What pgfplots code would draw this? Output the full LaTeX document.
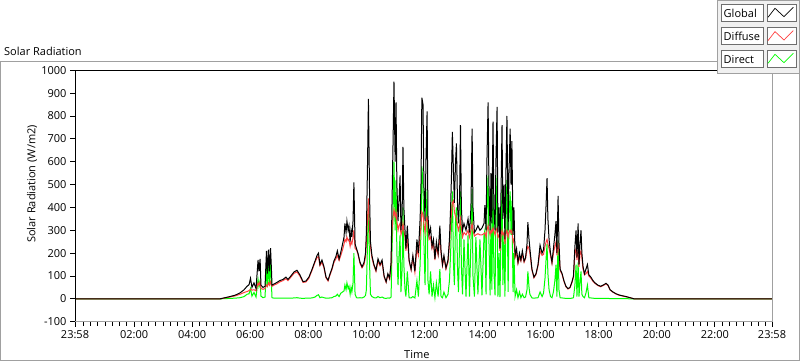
\documentclass[border=0pt]{standalone}
\usepackage{pgfplots}
\pgfplotsset{compat=1.18}
\usepackage{pgfplotstable}
\usepackage{fontspec}
\setmainfont{Open Sans}
\newcommand\ff{\fontsize{11bp}{13bp}\selectfont}
\definecolor{gline}{RGB}{0,255,0}
\definecolor{rline}{RGB}{255,64,64}
\definecolor{frm}{RGB}{160,160,160}
\definecolor{legbg}{RGB}{240,240,240}
\definecolor{boxbd}{RGB}{110,110,110}

\pgfplotstableread{
t G D B
-0.0333 0 0 0
4.96 0 0 0
5.13 5 4 1
5.30 10 8 2
5.48 16 13 3
5.65 26 20 5
5.79 40 28 10
5.89 55 32 20
5.96 62 36 22
6.01 90 42 45
6.06 50 38 12
6.13 70 40 28
6.20 45 35 8
6.27 170 70 85
6.30 120 60 55
6.34 175 75 80
6.37 60 45 12
6.44 50 42 5
6.51 55 45 8
6.56 210 60 150
6.59 110 55 50
6.63 215 70 160
6.66 120 60 60
6.70 222 75 170
6.73 130 60 65
6.75 60 55 5
6.82 65 60 3
6.92 72 66 3
7.02 80 74 3
7.13 85 80 3
7.23 95 88 3
7.30 85 80 3
7.40 100 95 3
7.51 118 112 4
7.61 125 118 5
7.71 105 100 3
7.82 75 72 2
7.92 78 74 3
8.02 95 90 3
8.13 130 125 4
8.23 165 160 8
8.30 190 180 15
8.35 200 185 18
8.40 150 145 5
8.47 170 160 8
8.54 140 135 5
8.61 95 92 3
8.68 82 78 3
8.75 110 105 4
8.82 135 130 5
8.88 165 158 10
8.95 185 175 12
9.00 210 190 20
9.06 175 168 10
9.12 205 190 25
9.18 240 215 30
9.23 270 240 35
9.26 330 260 60
9.30 290 250 40
9.33 340 270 70
9.37 300 255 45
9.40 320 260 55
9.44 250 230 20
9.47 300 250 50
9.50 270 240 30
9.54 340 270 70
9.57 510 300 200
9.61 240 220 20
9.66 220 215 5
9.71 200 195 4
9.78 160 155 5
9.85 140 136 4
9.92 160 150 8
9.97 200 185 15
10.00 290 250 40
10.04 600 350 250
10.07 875 440 430
10.11 450 300 150
10.14 250 230 20
10.19 190 180 10
10.26 150 145 5
10.33 125 120 4
10.40 175 165 10
10.47 150 145 5
10.54 170 160 8
10.61 100 96 3
10.68 75 72 2
10.74 110 105 4
10.80 90 86 3
10.85 160 150 8
10.88 400 300 200
10.92 700 360 380
10.95 950 390 600
10.99 600 360 300
11.02 860 380 520
11.05 500 340 200
11.09 340 300 60
11.12 420 320 180
11.16 540 330 280
11.19 300 280 30
11.23 370 300 130
11.26 665 330 400
11.29 400 300 150
11.33 300 270 40
11.36 220 210 10
11.41 320 260 120
11.47 170 165 5
11.54 130 126 4
11.60 190 180 10
11.67 120 116 4
11.74 260 220 80
11.79 200 190 10
11.85 350 280 150
11.88 500 320 300
11.91 880 380 580
11.95 850 370 500
11.98 500 330 250
12.02 340 290 60
12.05 600 340 330
12.09 820 360 480
12.12 365 310 80
12.16 280 260 20
12.21 310 270 120
12.26 230 220 10
12.31 260 240 60
12.36 175 170 5
12.41 250 230 70
12.47 200 190 10
12.53 320 280 130
12.57 210 200 10
12.62 150 145 5
12.67 190 180 30
12.74 135 130 5
12.81 170 160 20
12.86 260 240 80
12.90 400 330 200
12.93 540 380 330
12.96 730 420 470
13.00 550 430 150
13.03 420 380 60
13.07 600 360 350
13.10 680 350 400
13.14 400 320 120
13.17 330 300 30
13.21 450 320 250
13.24 760 350 470
13.27 400 310 150
13.31 300 270 20
13.36 330 290 260
13.43 300 280 10
13.50 350 300 280
13.55 290 270 10
13.60 400 300 250
13.64 745 330 480
13.67 400 300 100
13.72 290 275 10
13.77 300 280 270
13.84 320 285 20
13.91 300 280 260
13.98 310 280 15
14.05 330 285 280
14.08 410 290 300
14.12 300 270 20
14.15 600 300 380
14.19 860 320 540
14.22 500 300 250
14.26 300 280 15
14.29 550 300 350
14.32 330 290 40
14.36 775 310 500
14.39 400 300 120
14.43 300 280 15
14.46 600 300 380
14.50 840 310 540
14.53 290 270 10
14.57 400 280 200
14.60 220 210 8
14.64 500 280 320
14.67 760 300 480
14.70 350 280 60
14.74 500 290 300
14.77 260 240 10
14.81 600 290 400
14.84 800 300 520
14.88 300 270 30
14.91 550 290 350
14.95 745 300 470
14.98 500 290 280
15.01 690 300 430
15.05 280 250 30
15.08 400 260 200
15.12 190 180 10
15.17 220 200 40
15.22 160 155 5
15.27 200 180 30
15.32 170 165 5
15.37 210 195 20
15.43 165 160 5
15.48 180 175 8
15.53 240 215 40
15.56 336 230 120
15.60 260 220 50
15.63 220 200 20
15.70 130 126 4
15.77 95 92 3
15.84 110 106 4
15.91 150 145 5
15.98 235 210 30
16.05 200 190 10
16.10 215 195 25
16.15 300 230 90
16.19 420 250 180
16.22 528 260 240
16.25 350 240 110
16.29 260 220 40
16.34 200 190 10
16.39 160 155 5
16.44 220 200 30
16.49 280 230 80
16.53 340 250 150
16.56 200 190 10
16.60 450 240 256
16.63 250 210 40
16.67 130 125 5
16.74 110 106 4
16.80 80 77 3
16.87 55 53 2
16.94 45 43 2
17.01 50 48 2
17.08 75 72 3
17.13 100 95 5
17.18 230 200 60
17.22 300 220 150
17.25 180 170 10
17.29 330 220 160
17.32 150 140 10
17.36 250 200 80
17.39 300 210 120
17.42 200 180 20
17.46 140 130 10
17.51 110 105 5
17.56 130 110 25
17.61 150 120 60
17.66 105 100 5
17.73 95 90 4
17.80 80 77 3
17.87 70 68 2
17.97 60 58 2
18.07 55 53 2
18.18 62 60 2
18.25 68 66 2
18.32 60 58 2
18.39 40 39 1
18.49 30 29 1
18.60 22 21 1
18.70 17 16 1
18.80 14 13 1
18.94 10 9 1
19.08 5 5 0
19.22 0 0 0
23.9667 0 0 0
}\data

\begin{document}
\begin{tikzpicture}[x=1bp,y=1bp,font=\ff]
\useasboundingbox (0,0) rectangle (800,361);
\draw[frm,line width=1bp] (0.5,1) rectangle (799.5,299.3);
\node[anchor=base west,inner sep=0] at (4,306) {Solar Radiation};
\begin{axis}[at={(75bp,39.3bp)},anchor=south west,scale only axis,
  width=697bp,height=251.4bp,
  xmin=-0.0333,xmax=23.9667,ymin=-100,ymax=1000,
  ytick={-100,0,100,200,300,400,500,600,700,800,900,1000},
  yticklabels={-100,0,100,200,300,400,500,600,700,800,900,1000},
  xtick={-0.0333,2,4,6,8,10,12,14,16,18,20,22,23.9667},
  xticklabels={23:58,02:00,04:00,06:00,08:00,10:00,12:00,14:00,16:00,18:00,20:00,22:00,23:58},
  minor xtick={0.25,0.5,...,23.75},
  xtick pos=bottom, ytick pos=left,
  tick align=outside, major tick length=5bp, minor tick length=4bp,
  tick style={black,line width=0.9bp},
  axis line style={draw=none},
  ticklabel style={font=\ff},
  clip=true]
\addplot[gline,line width=1bp] table[x=t,y=B] {\data};
\addplot[rline,line width=1bp] table[x=t,y=D] {\data};
\addplot[black,line width=1bp] table[x=t,y=G] {\data};
\end{axis}
\draw[black,line width=1bp] (75,39.3) -- (75,290.7) -- (772,290.7);
\draw[frm,line width=1bp] (772,290.7) -- (772,39.3) -- (75,39.3);
\node[anchor=base west,inner sep=0] at (404,3) {Time};
\node[rotate=90,inner sep=0] at (32,177) {Solar Radiation (W/m2)};
% legend
\draw[frm,fill=legbg] (717.5,288.3) rectangle (799,361);
\foreach \t/\lab in {4/Global,27.3/Diffuse,50/Direct}{
  \draw[boxbd,fill=white] (721,361-\t) rectangle (763,361-\t-16.7);
  \draw[boxbd,fill=white] (767,361-\t) rectangle (795.7,361-\t-16.7);
  \node[anchor=base west,inner sep=0] at (723.5,361-\t-13.3) {\lab};
}
\draw[black,line width=0.7bp] (768,343.7) -- (775,352.7) -- (784,344.3) -- (793.3,353.7);
\draw[rline,line width=0.7bp] (768,320.4) -- (775,329.4) -- (784,321) -- (793.3,330.4);
\draw[gline,line width=0.7bp] (768,297.7) -- (775,306.7) -- (784,298.3) -- (793.3,307.7);
\end{tikzpicture}
\end{document}
